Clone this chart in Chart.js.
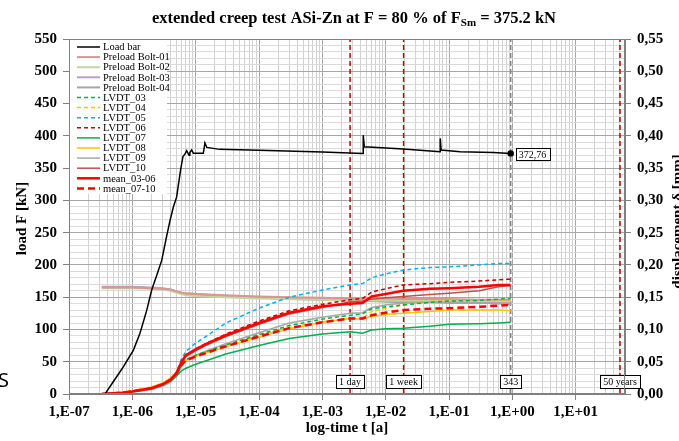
<!DOCTYPE html>
<html lang="en">
<head>
<meta charset="UTF-8">
<title>extended creep test ASi-Zn</title>
<script src="https://cdn.jsdelivr.net/npm/chart.js"></script>
<style>
  html, body { margin: 0; padding: 0; background: #fff; }
  canvas { display: block; }
</style>
</head>
<body>
<canvas id="chart" width="679" height="441"></canvas>
<script>
const SERIF = "'Liberation Serif', 'Times New Roman', serif";

// time [a] of the displacement / preload readings
const tDisp = [3.3e-7, 7e-7, 1e-6, 2e-6, 3e-6, 4e-6, 5e-6, 6e-6, 7e-6, 1e-5, 1.5e-5, 3e-5, 1e-4, 3e-4, 1e-3, 2.74e-3, 4.3e-3, 6e-3, 1e-2, 1.9e-2, 5e-2, 0.1, 0.3, 0.6, 0.94];

// load bar [kN]
const tLoad = [3.7e-7, 5e-7, 7.2e-7, 1.04e-6, 1.32e-6, 1.69e-6, 2.02e-6, 2.43e-6, 2.91e-6, 3.37e-6, 3.94e-6, 4.45e-6, 5e-6, 5.77e-6, 6.3e-6, 6.8e-6, 7.2e-6, 7.85e-6, 8.1e-6, 8.65e-6, 9.2e-6, 1.32e-5, 1.4e-5, 1.5e-5, 2.4e-5, 1e-4, 1e-3, 4.4e-3, 4.42e-3, 4.6e-3, 0.019, 0.0725, 0.0726, 0.075, 0.15, 0.5, 0.94];
const loadBar = [0, 19, 42, 68, 94, 130, 161, 184, 207, 238, 269, 290, 305, 347, 368, 372, 377, 370, 374, 378, 373, 373, 389, 382, 379, 377.5, 375, 372.6, 401, 383, 379.5, 375.4, 396, 378, 375.4, 374, 372.76];

// preload bolts [kN]
const bolt01 = [165, 165, 165, 164, 163, 162, 159, 157, 156, 155, 154, 153, 151, 150, 149, 148, 148, 148, 148, 147, 147, 147, 146, 146, 146];
const bolt02 = [164, 164, 164, 163, 162, 160, 157, 155, 153, 152, 151, 150, 148, 147, 146, 145, 145, 145, 145, 145, 145, 144, 144, 144, 144];
const bolt03 = [166, 166, 166, 165, 164, 162, 159, 157, 156, 155, 154, 152, 150, 149, 147, 146, 146, 146, 145, 144, 144, 143, 143, 143, 143];
const bolt04 = [165, 165, 165, 164, 163, 161, 158, 156, 155, 154, 153, 151, 149, 147, 146, 145, 144, 144, 143, 142, 142, 141, 141, 141, 140];

// LVDT displacements [mm]
const lvdt03 = [0, 0.002, 0.004, 0.009, 0.014, 0.021, 0.031, 0.045, 0.053, 0.060, 0.066, 0.076, 0.092, 0.106, 0.116, 0.122, 0.124, 0.132, 0.135, 0.138, 0.142, 0.144, 0.145, 0.147, 0.148];
const lvdt04 = [0, 0.002, 0.005, 0.010, 0.016, 0.024, 0.033, 0.046, 0.053, 0.059, 0.065, 0.075, 0.090, 0.103, 0.112, 0.117, 0.117, 0.128, 0.133, 0.138, 0.143, 0.145, 0.146, 0.146, 0.144];
const lvdt05 = [0, 0.002, 0.004, 0.009, 0.015, 0.023, 0.034, 0.055, 0.066, 0.079, 0.090, 0.110, 0.133, 0.150, 0.161, 0.169, 0.171, 0.180, 0.186, 0.192, 0.196, 0.197, 0.200, 0.202, 0.202];
const lvdt06 = [0, 0.002, 0.004, 0.009, 0.015, 0.022, 0.033, 0.050, 0.060, 0.070, 0.079, 0.093, 0.113, 0.129, 0.139, 0.146, 0.148, 0.158, 0.163, 0.169, 0.171, 0.173, 0.175, 0.177, 0.178];
const lvdt07 = [0, 0.002, 0.004, 0.009, 0.014, 0.020, 0.028, 0.036, 0.040, 0.046, 0.052, 0.062, 0.075, 0.086, 0.093, 0.0965, 0.094, 0.099, 0.101, 0.102, 0.105, 0.108, 0.109, 0.110, 0.111];
const lvdt08 = [0, 0.003, 0.005, 0.011, 0.017, 0.025, 0.034, 0.046, 0.052, 0.058, 0.064, 0.073, 0.088, 0.101, 0.111, 0.117, 0.116, 0.120, 0.123, 0.125, 0.128, 0.130, 0.130, 0.130, 0.129];
const lvdt09 = [0, 0.001, 0.003, 0.007, 0.012, 0.018, 0.028, 0.043, 0.052, 0.060, 0.067, 0.078, 0.095, 0.110, 0.119, 0.125, 0.126, 0.134, 0.138, 0.141, 0.142, 0.142, 0.141, 0.140, 0.139];
const lvdt10 = [0, 0.002, 0.004, 0.009, 0.015, 0.022, 0.032, 0.049, 0.058, 0.067, 0.076, 0.089, 0.108, 0.124, 0.134, 0.143, 0.144, 0.147, 0.149, 0.151, 0.154, 0.156, 0.160, 0.166, 0.168];
const mean0306 = [0, 0.002, 0.004, 0.009, 0.015, 0.022, 0.033, 0.050, 0.060, 0.069, 0.078, 0.091, 0.110, 0.126, 0.136, 0.140, 0.141, 0.151, 0.155, 0.160, 0.163, 0.164, 0.166, 0.169, 0.169];
const mean0710 = [0, 0.002, 0.004, 0.009, 0.015, 0.022, 0.032, 0.045, 0.052, 0.058, 0.064, 0.074, 0.089, 0.102, 0.111, 0.117, 0.117, 0.122, 0.126, 0.130, 0.132, 0.133, 0.135, 0.137, 0.138];

// time markers
const markerTimes = [1 / 365, 7 / 365, 343 / 365, 50];
const markerLabels = ['1 day', '1 week', '343', '50 years'];
const markerColors = ['#c00000', '#c00000', '#808080', '#c00000'];

// axes
const xTickValues = [1e-7, 1e-6, 1e-5, 1e-4, 1e-3, 1e-2, 1e-1, 1, 10];
const xTickLabels = ['1,E-07', '1,E-06', '1,E-05', '1,E-04', '1,E-03', '1,E-02', '1,E-01', '1,E+00', '1,E+01'];
const xMin = 1e-7, xMax = 60;

const xGrid = [];
xTickValues.forEach(v => { for (let d = 1; d <= 9; d++) { if (d * v <= xMax) xGrid.push(d * v); } });

const isDecade = v => Math.abs(Math.log10(v) - Math.round(Math.log10(v))) < 1e-6;
const pts = (ts, vs) => ts.map((t, i) => ({ x: t, y: vs[i] }));

function line(label, ts, vs, color, width, dash, axis, order) {
  return {
    label, data: pts(ts, vs), borderColor: color, backgroundColor: color,
    borderWidth: width, borderDash: dash, yAxisID: axis, order,
    pointRadius: 0, tension: 0, inLegend: true
  };
}

const datasets = [
  line('Load bar', tLoad, loadBar, '#000000', 1.5, [], 'y', 0),
  line('Preload Bolt-01', tDisp, bolt01, '#da9694', 2, [], 'y', 8),
  line('Preload Bolt-02', tDisp, bolt02, '#c3d69b', 2, [], 'y', 8),
  line('Preload Bolt-03', tDisp, bolt03, '#b3a2c7', 2, [], 'y', 8),
  line('Preload Bolt-04', tDisp, bolt04, '#a6a6a6', 2, [], 'y', 8),
  line('LVDT_03', tDisp, lvdt03, '#00b050', 1.5, [4, 3], 'y2', 5),
  line('LVDT_04', tDisp, lvdt04, '#ffc000', 1.5, [4, 3], 'y2', 5),
  line('LVDT_05', tDisp, lvdt05, '#00b0f0', 1.5, [4, 3], 'y2', 5),
  line('LVDT_06', tDisp, lvdt06, '#c00000', 1.5, [4, 3], 'y2', 5),
  line('LVDT_07', tDisp, lvdt07, '#00b050', 1.5, [], 'y2', 6),
  line('LVDT_08', tDisp, lvdt08, '#ffc000', 1.5, [], 'y2', 6),
  line('LVDT_09', tDisp, lvdt09, '#a6a6a6', 1.5, [], 'y2', 6),
  line('LVDT_10', tDisp, lvdt10, '#c0504d', 1.5, [], 'y2', 6),
  line('mean_03-06', tDisp, mean0306, '#ff0000', 2.5, [], 'y2', 2),
  line('mean_07-10', tDisp, mean0710, '#ff0000', 2.5, [7, 4], 'y2', 3)
];
// end marker of the load bar
datasets[0].pointRadius = c => (c.dataIndex === loadBar.length - 1 ? 2.5 : 0);

markerTimes.forEach((t, i) => {
  datasets.push({
    label: markerLabels[i], data: [{ x: t, y: 0 }, { x: t, y: 550 }],
    borderColor: markerColors[i], borderWidth: 1.5, borderDash: [5, 3],
    yAxisID: 'y', order: 10, pointRadius: 0, inLegend: false
  });
});

const decorations = {
  id: 'decorations',
  beforeDraw(chart) {
    const ctx = chart.ctx;
    ctx.save();
    ctx.fillStyle = '#fff';
    ctx.fillRect(0, 0, chart.width, chart.height);
    ctx.restore();
  },
  afterDatasetsDraw(chart) {
    const ctx = chart.ctx, a = chart.chartArea;
    const xs = chart.scales.x, ys = chart.scales.y;
    ctx.save();

    // legend box
    const items = chart.data.datasets.filter(d => d.inLegend);
    ctx.fillStyle = '#fff';
    ctx.fillRect(a.left + 1, a.top + 1, 97, 154);
    ctx.font = '10.5px ' + SERIF;
    ctx.textBaseline = 'middle';
    ctx.textAlign = 'left';
    items.forEach((d, i) => {
      const y = a.top + 8 + i * 10.1;
      ctx.beginPath();
      ctx.strokeStyle = d.borderColor;
      ctx.lineWidth = d.borderWidth;
      ctx.setLineDash(d.borderDash || []);
      ctx.moveTo(a.left + 8, y);
      ctx.lineTo(a.left + 31, y);
      ctx.stroke();
      ctx.setLineDash([]);
      ctx.fillStyle = '#000';
      ctx.fillText(d.label, a.left + 34, y + 0.5);
    });

    // marker boxes
    ctx.font = '10px ' + SERIF;
    ctx.textAlign = 'center';
    markerTimes.forEach((t, i) => {
      const px = xs.getPixelForValue(t);
      const w = ctx.measureText(markerLabels[i]).width + 6;
      ctx.fillStyle = '#fff';
      ctx.fillRect(px - w / 2, a.bottom - 19, w, 13);
      ctx.strokeStyle = '#000';
      ctx.lineWidth = 1;
      ctx.strokeRect(Math.round(px - w / 2) + 0.5, a.bottom - 18.5, Math.round(w), 13);
      ctx.fillStyle = '#000';
      ctx.fillText(markerLabels[i], px, a.bottom - 12);
    });

    // end value label
    const last = loadBar.length - 1;
    const ex = xs.getPixelForValue(tLoad[last]), ey = ys.getPixelForValue(loadBar[last]);
    const txt = loadBar[last].toFixed(2).replace('.', ',');
    const tw = ctx.measureText(txt).width + 6;
    ctx.fillStyle = '#fff';
    ctx.fillRect(ex + 5, ey - 5, tw, 12);
    ctx.strokeStyle = '#000';
    ctx.strokeRect(Math.round(ex + 5) + 0.5, Math.round(ey - 5) + 0.5, Math.round(tw), 12);
    ctx.fillStyle = '#000';
    ctx.fillText(txt, ex + 5 + tw / 2, ey + 1.5);

    // plot frame
    ctx.strokeStyle = '#808080';
    ctx.lineWidth = 1;
    ctx.strokeRect(a.left + 0.5, a.top + 0.5, a.right - a.left - 1, a.bottom - a.top - 1);
    ctx.restore();
  },
  afterDraw(chart) {
    const ctx = chart.ctx, a = chart.chartArea;
    ctx.save();
    ctx.fillStyle = '#000';
    ctx.textBaseline = 'alphabetic';
    ctx.textAlign = 'left';

    // title with subscript
    const p1 = 'extended creep test ASi-Zn at F = 80 % of F', sub = 'Sm', p2 = ' = 375.2 kN';
    ctx.font = 'bold 16.5px ' + SERIF;
    const w1 = ctx.measureText(p1).width, w3 = ctx.measureText(p2).width;
    ctx.font = 'bold 11px ' + SERIF;
    const w2 = ctx.measureText(sub).width;
    const x0 = 354 - (w1 + w2 + w3) / 2;
    ctx.font = 'bold 16.5px ' + SERIF;
    ctx.fillText(p1, x0, 23);
    ctx.font = 'bold 11px ' + SERIF;
    ctx.fillText(sub, x0 + w1, 26);
    ctx.font = 'bold 16.5px ' + SERIF;
    ctx.fillText(p2, x0 + w1 + w2, 23);

    // axis titles
    ctx.font = 'bold 15px ' + SERIF;
    ctx.textAlign = 'center';
    ctx.textBaseline = 'middle';
    ctx.fillText('log-time t [a]', (a.left + a.right) / 2, 428);
    ctx.save();
    ctx.translate(22, (a.top + a.bottom) / 2 + 2);
    ctx.rotate(-Math.PI / 2);
    ctx.fillText('load F [kN]', 0, 0);
    ctx.restore();
    ctx.save();
    ctx.translate(678, (a.top + a.bottom) / 2 + 5);
    ctx.rotate(-Math.PI / 2);
    ctx.fillText('displacement δ [mm]', 0, 0);
    ctx.restore();

    // stray glyph at the left margin
    ctx.font = '20px "Noto Sans"';
    ctx.textAlign = 'left';
    ctx.textBaseline = 'alphabetic';
    ctx.fillText('S', -2, 387);
    ctx.restore();
  }
};

Chart.defaults.font.family = SERIF;
Chart.defaults.color = '#000';

new Chart(document.getElementById('chart'), {
  type: 'line',
  data: { datasets },
  plugins: [decorations],
  options: {
    responsive: false,
    animation: false,
    devicePixelRatio: 1,
    layout: { padding: { top: 39, left: 0, right: 0, bottom: 0 } },
    plugins: { legend: { display: false }, tooltip: { enabled: false }, title: { display: false } },
    scales: {
      x: {
        type: 'logarithmic', min: xMin, max: xMax,
        afterBuildTicks: s => { s.ticks = xGrid.map(v => ({ value: v })); },
        afterFit: s => { s.height = 47; },
        ticks: {
          autoSkip: false, maxRotation: 0, padding: 3,
          font: { size: 15, weight: 'bold' },
          callback: v => {
            const i = xTickValues.findIndex(d => Math.abs(Math.log10(d) - Math.log10(v)) < 1e-6);
            return i >= 0 ? xTickLabels[i] : '';
          }
        },
        grid: {
          color: c => (c.tick && isDecade(c.tick.value) ? '#a6a6a6' : '#d0d0d0'),
          tickLength: 6,
          tickColor: c => (c.tick && isDecade(c.tick.value) ? '#808080' : 'rgba(0,0,0,0)')
        },
        border: { color: '#808080' }
      },
      y: {
        position: 'left', min: 0, max: 550,
        afterFit: s => { s.width = 69; },
        ticks: {
          stepSize: 10, padding: 6, autoSkip: false, maxTicksLimit: 100,
          font: { size: 15, weight: 'bold' },
          callback: v => (v % 50 === 0 ? String(v) : '')
        },
        grid: {
          color: c => (c.tick && c.tick.value % 50 === 0 ? '#a6a6a6' : '#dadada'),
          tickLength: 6,
          tickColor: c => (c.tick && c.tick.value % 50 === 0 ? '#808080' : 'rgba(0,0,0,0)')
        },
        border: { color: '#808080' }
      },
      y2: {
        position: 'right', min: 0, max: 0.55,
        afterFit: s => { s.width = 54; },
        ticks: {
          stepSize: 0.05, padding: 6, autoSkip: false,
          font: { size: 15, weight: 'bold' },
          callback: v => v.toFixed(2).replace('.', ',')
        },
        grid: { drawOnChartArea: false, tickLength: 6, tickColor: '#808080' },
        border: { color: '#808080' }
      }
    }
  }
});
</script>
</body>
</html>
